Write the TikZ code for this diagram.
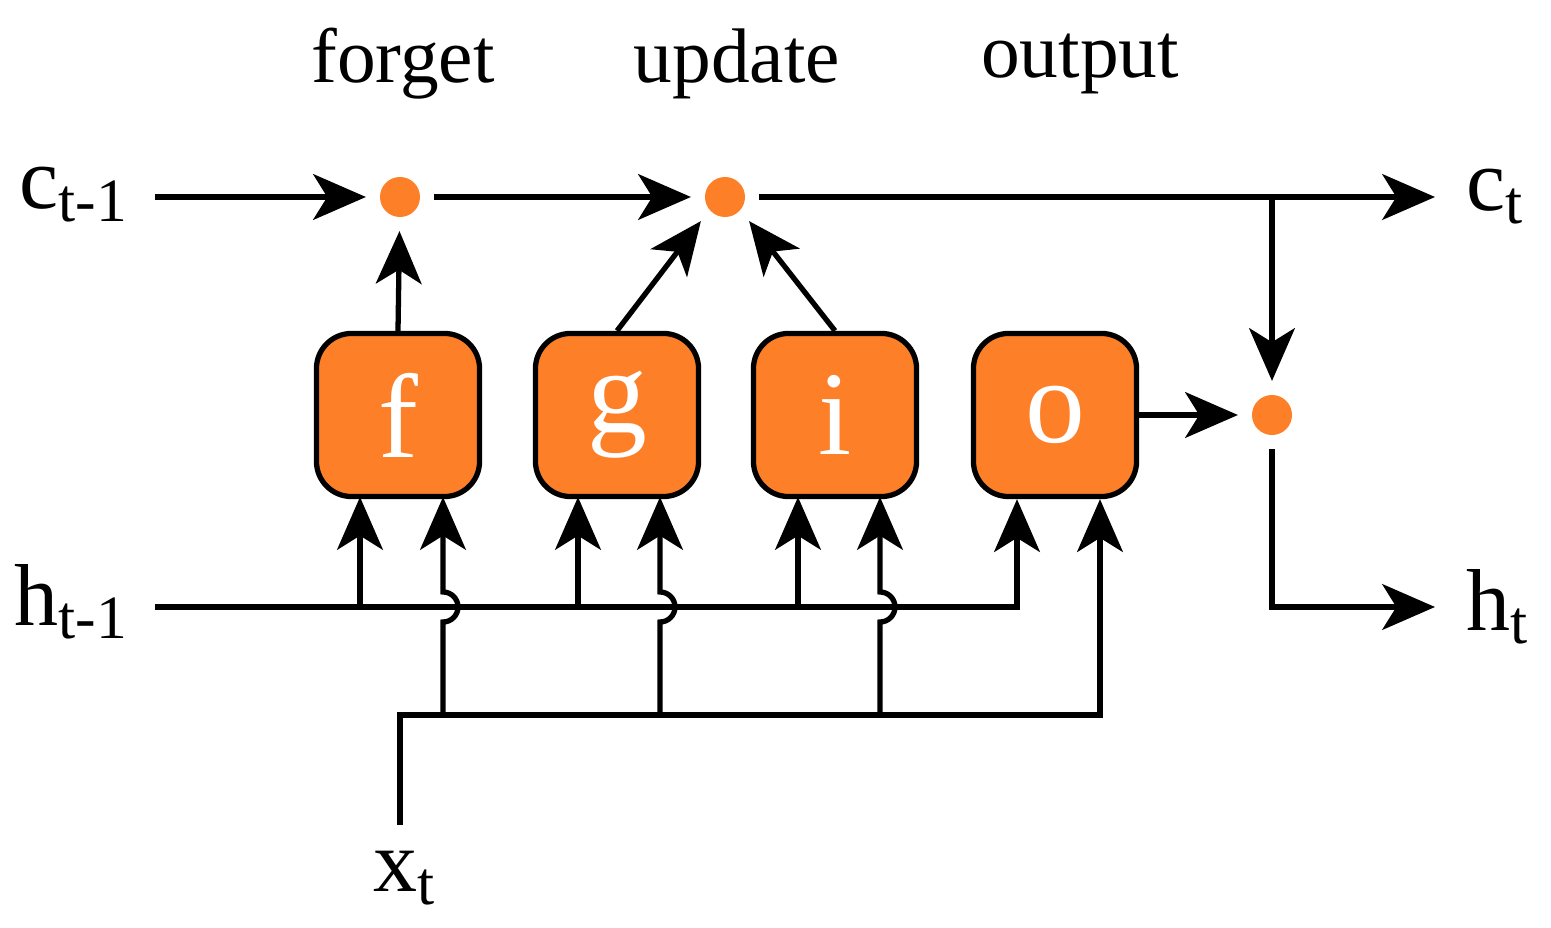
\documentclass[tikz,border=0pt]{standalone}
\usepackage{fontspec}
\setmainfont{Liberation Serif}
\usetikzlibrary{arrows.meta, positioning}
\definecolor{gateorange}{RGB}{253,128,40}

\begin{document}
\begin{tikzpicture}[x=0.01cm, y=-0.01cm, every node/.style={inner sep=1pt},
    line width=1.5pt, >={Stealth[length=15pt, width=13pt, inset=4pt]},
    gate/.style={draw=black, line width=1.5pt, fill=gateorange, rounded corners=10pt,
        minimum size=1.63cm, text=white, font=\fontsize{34}{34}\selectfont},
    dot/.style={circle, fill=gateorange, minimum size=0.4cm, inner sep=0pt, outer sep=4pt},
    lbl/.style={font=\fontsize{25}{25}\selectfont}]
    \useasboundingbox (0,0) rectangle (1551,928);

    % gates
    \node[gate] (f) at (398,415) {f};
    \node[gate] (g) at (617,415) {g};
    \node[gate] (i) at (835,415) {i};
    \node[gate] (o) at (1055,415) {o};

    % pointwise dots
    \node[dot] (m1) at (400,197) {};
    \node[dot] (m2) at (725,197) {};
    \node[dot] (m3) at (1272,415) {};

    % labels
    \node[font=\fontsize{22}{22}\selectfont] at (403,64) {forget};
    \node[font=\fontsize{22}{22}\selectfont] at (737,64) {update};
    \node[font=\fontsize{22}{22}\selectfont] at (1080,64) {output};
    \node[lbl, anchor=east] (cin) at (135,195) {c\textsubscript{t-1}};
    \node[lbl, anchor=west] (cout) at (1460,197) {c\textsubscript{t}};
    \node[lbl, anchor=east] (hin) at (135,602) {h\textsubscript{t-1}};
    \node[lbl, anchor=west] (hout) at (1460,607) {h\textsubscript{t}};
    \node[lbl] (x) at (405,878) {x\textsubscript{t}};

    \coordinate (cs) at (155,197);
    \coordinate (ce) at (1435,197);
    \coordinate (cb) at (1272,197);
    \coordinate (hs) at (155,607);
    \coordinate (he) at (1435,607);
    \coordinate (xs) at (400,825);

    % cell state
    \draw[->] (cs) -- (m1);
    \draw[->] (m1) -- (m2);
    \draw[->] (m2) -- (ce);
    \draw[->] (cb) -- (m3);
    \draw[->] (m3.south) |- (he);

    % gate outputs
    \draw[->] (f.north) -- (m1);
    \draw[->] (g.north) -- (m2.south west);
    \draw[->] (i.north) -- (m2.south east);
    \draw[->] (o.east) -- (m3);

    % h_{t-1} bus
    \draw[->] (hs) -| (o.south -| 1017,0);
    \foreach \xx in {360,578,798}
        \draw[->] (\xx,607) -- (\xx,497);

    % x_t bus with hops
    \draw[->] (xs) |- (1100,715) -- (o.south -| 1100,0);
    \foreach \xx in {443,660,880}
        \draw[->] (\xx,715) -- (\xx,622) arc[start angle=90, end angle=-90, radius=15] -- (\xx,497);
\end{tikzpicture}
\end{document}
